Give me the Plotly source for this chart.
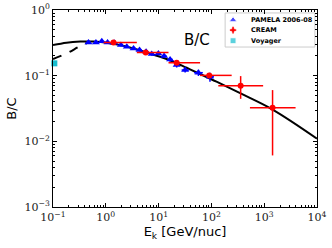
import plotly.graph_objects as go

# PAMELA 2006-08
pam_E = [0.47, 0.65, 0.84, 1.08, 1.44, 1.93, 2.5, 3.35, 4.35, 5.8, 7.4, 9.9, 12.7, 16.5, 22, 31.8, 56.8, 94]
pam_R = [0.321, 0.321, 0.333, 0.321, 0.318, 0.292, 0.276, 0.26, 0.245, 0.232, 0.213, 0.218, 0.199, 0.177, 0.145, 0.122, 0.111, 0.096]
pam_dy = [0.012, 0.012, 0.012, 0.012, 0.012, 0.011, 0.011, 0.011, 0.011, 0.011, 0.011, 0.011, 0.011, 0.012, 0.012, 0.01, 0.012, 0.015]
pam_dxlo = [0.04, 0.05, 0.07, 0.09, 0.12, 0.16, 0.2, 0.3, 0.4, 0.5, 0.7, 0.9, 1.2, 1.6, 2.5, 4.5, 10, 15]
pam_dxhi = [0.05, 0.06, 0.08, 0.1, 0.13, 0.18, 0.25, 0.35, 0.45, 0.6, 0.8, 1.1, 1.5, 2.0, 3.0, 6.0, 12, 18]

# CREAM
cr_E = [1.40, 5.7, 22, 91, 358, 1440]
cr_R = [0.321, 0.226, 0.157, 0.101, 0.070, 0.0324]
cr_ylo = [0.305, 0.214, 0.148, 0.093, 0.0444, 0.0061]
cr_yhi = [0.337, 0.238, 0.166, 0.109, 0.0985, 0.0603]
cr_xlo = [0.91, 3.87, 15.4, 61, 135, 537]
cr_xhi = [3.87, 15.4, 61, 242, 955, 3930]

# Voyager
voy_E = [0.106]
voy_R = [0.154]

# Model curves
mod_E = [0.1, 0.18, 0.33, 0.59, 1.05, 1.87, 3.35, 5.98, 10.7, 19.2, 34, 61, 125, 358, 1440, 10000]
mod_R = [0.292, 0.318, 0.33, 0.33, 0.318, 0.292, 0.26, 0.224, 0.194, 0.163, 0.132, 0.106, 0.081, 0.0536, 0.0305, 0.011]
dash_E = [0.1, 0.18, 0.32, 0.47]
dash_R = [0.179, 0.218, 0.279, 0.321]

# Ticks
tick_vals = [0.001, 0.01, 0.1, 1, 10, 100, 1000, 10000]
tick_text = ["10<sup>\u22123</sup>", "10<sup>\u22122</sup>", "10<sup>\u22121</sup>", "10<sup>0</sup>",
             "10<sup>1</sup>", "10<sup>2</sup>", "10<sup>3</sup>", "10<sup>4</sup>"]

# Legend entries
leg_names = ["PAMELA 2006-08", "CREAM", "Voyager"]
leg_colors = ["blue", "red", "#17becf"]
leg_symbols = ["triangle-up", "circle", "square"]

fig = go.Figure()
fig.add_trace(go.Scatter(x=mod_E, y=mod_R, mode="lines", line=dict(color="black", width=2, shape="spline"),
                         showlegend=False, hoverinfo="skip"))
fig.add_trace(go.Scatter(x=dash_E, y=dash_R, mode="lines", line=dict(color="black", width=2, dash="dash", shape="spline"),
                         showlegend=False, hoverinfo="skip"))

fig.add_trace(go.Scatter(
    x=pam_E, y=pam_R, mode="markers", name=leg_names[0], showlegend=False,
    marker=dict(symbol="triangle-up", color="blue", size=7),
    error_y=dict(type="data", array=pam_dy, color="blue", thickness=1.5, width=0),
    error_x=dict(type="data", array=pam_dxhi, arrayminus=pam_dxlo, color="blue", thickness=1.5, width=0),
))

cr_ep = [h - r for h, r in zip(cr_yhi, cr_R)]
cr_em = [r - l for l, r in zip(cr_ylo, cr_R)]
cr_xp = [h - e for h, e in zip(cr_xhi, cr_E)]
cr_xm = [e - l for l, e in zip(cr_xlo, cr_E)]
fig.add_trace(go.Scatter(
    x=cr_E, y=cr_R, mode="markers", name=leg_names[1], showlegend=False,
    marker=dict(symbol="circle", color="red", size=6),
    error_y=dict(type="data", array=cr_ep, arrayminus=cr_em, color="red", thickness=1.5, width=0),
    error_x=dict(type="data", array=cr_xp, arrayminus=cr_xm, color="red", thickness=1.5, width=0),
))

fig.add_trace(go.Scatter(
    x=voy_E, y=voy_R, mode="markers", name=leg_names[2], showlegend=False,
    marker=dict(symbol="square", color="#17becf", size=6),
    cliponaxis=False,
))

# Manual compact legend on a hidden overlay axis (0..1 over the plot area)
leg_y = [0.949, 0.898, 0.844]
fig.add_trace(go.Scatter(
    x=[0.682] * 3, y=leg_y, mode="markers", xaxis="x2", yaxis="y2", showlegend=False, hoverinfo="skip",
    marker=dict(symbol=leg_symbols, color=leg_colors, size=[7, 5, 6]),
))
fig.add_shape(type="line", xref="x2", yref="y2", x0=0.682 - 0.012, x1=0.682 + 0.012, y0=leg_y[1], y1=leg_y[1],
              line=dict(color="red", width=1.5))
fig.add_shape(type="line", xref="x2", yref="y2", x0=0.682, x1=0.682, y0=leg_y[1] - 0.017, y1=leg_y[1] + 0.017,
              line=dict(color="red", width=1.5))
fig.add_shape(type="rect", xref="x2", yref="y2", x0=0.652, x1=0.992, y0=0.812, y1=0.985,
              line=dict(color="#cccccc", width=1), fillcolor="rgba(255,255,255,0.85)", layer="below")
for name, yy in zip(leg_names, leg_y):
    fig.add_annotation(x=0.742, y=yy, xref="x2", yref="y2", text="<b>" + name + "</b>", showarrow=False,
                       xanchor="left", yanchor="middle",
                       font=dict(size=6.5, family="DejaVu Sans", color="black"))

fig.add_annotation(x=1.72, y=-0.46, xref="x", yref="y", text="B/C", showarrow=False,
                   xanchor="center", yanchor="middle",
                   font=dict(size=15, color="black", family="DejaVu Sans"))

axis_common = dict(
    type="log", showgrid=False, zeroline=False, showline=True, linecolor="black", linewidth=1,
    mirror="ticks", ticks="inside", ticklen=4, tickcolor="black", automargin=False,
    tickmode="array", tickvals=tick_vals, ticktext=tick_text,
    tickfont=dict(family="DejaVu Serif", size=11, color="#222"),
    minor=dict(ticks="inside", ticklen=2, tickcolor="black", dtick="D1"),
)

fig.update_xaxes(range=[-1, 4], title=dict(text="E<sub>k</sub> [GeV/nuc]", font=dict(size=13, family="DejaVu Sans", color="black"), standoff=0),
                 **axis_common)
fig.update_yaxes(range=[-3, 0], title=dict(text="B/C", font=dict(size=13, family="DejaVu Sans", color="black"), standoff=4),
                 **axis_common)

fig.update_layout(
    width=332, height=248,
    margin=dict(l=53, r=15, t=10, b=41),
    plot_bgcolor="white", paper_bgcolor="white",
    showlegend=False,
    xaxis2=dict(overlaying="x", range=[0, 1], visible=False, fixedrange=True),
    yaxis2=dict(overlaying="y", range=[0, 1], visible=False, fixedrange=True),
)

fig.write_html("out.html", config={"displayModeBar": False},
               post_script="document.body.style.margin='0';document.body.style.padding='0';")
